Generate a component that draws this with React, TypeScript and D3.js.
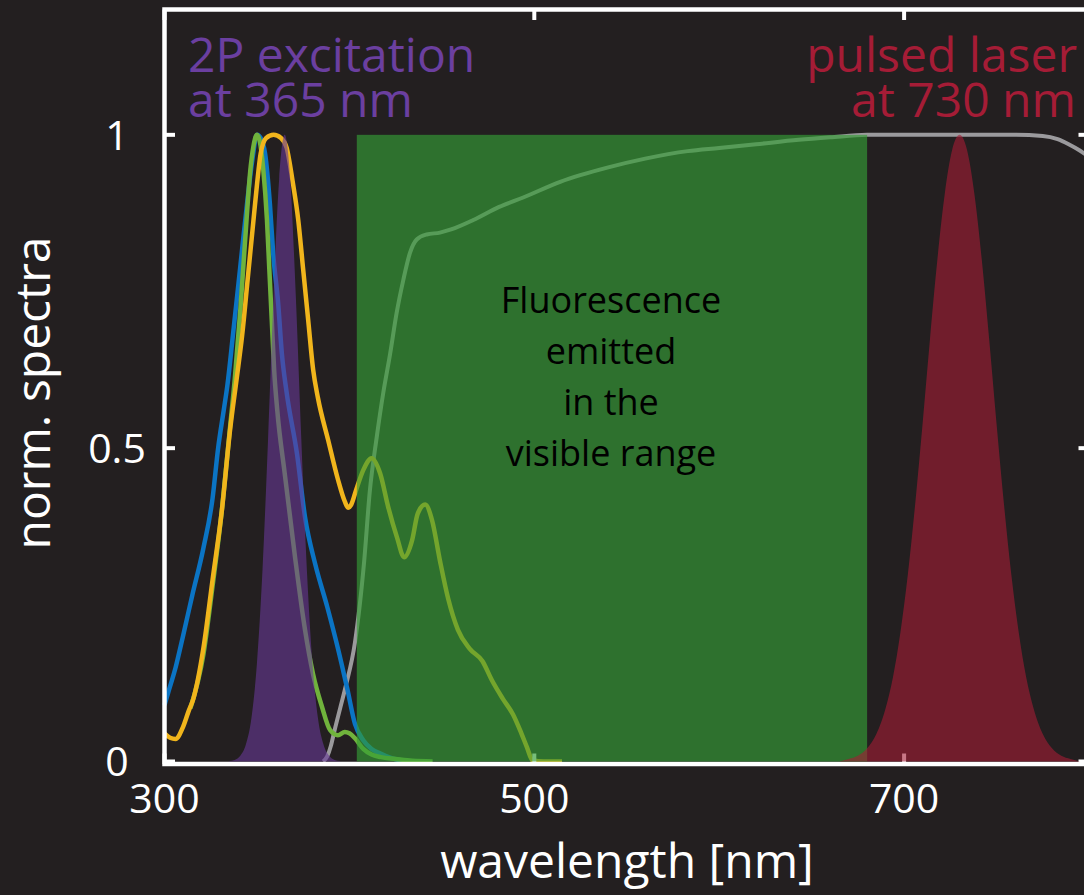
import React from 'react';
import * as d3 from 'd3';

type Pt = [number, number];

// wavelength [nm], normalized value
const blueSpectrum: Pt[] = [
  [300, 0.09], [302, 0.11], [306, 0.15], [310, 0.2], [315, 0.265], [321, 0.34], [326, 0.42],
  [329, 0.5], [332, 0.56], [334, 0.6], [337, 0.68], [341, 0.79], [345, 0.9], [347.5, 0.96],
  [350, 1.0], [352, 0.995], [354.4, 0.97], [357, 0.89], [358.8, 0.81], [361.5, 0.73],
  [363.5, 0.65], [366, 0.59], [371.7, 0.49], [376, 0.39], [381.5, 0.315], [388, 0.247],
  [394, 0.178], [399, 0.114], [403, 0.06], [407.5, 0.034], [412, 0.02], [416.5, 0.013],
  [422, 0.006], [431, 0],
];

const greenSpectrum: Pt[] = [
  [314, 0.085], [321, 0.17], [326, 0.28], [331, 0.4], [335, 0.52], [338, 0.61], [341, 0.72],
  [344.5, 0.87], [346.3, 0.94], [348, 0.98], [350, 1.0], [351.5, 0.99], [353.4, 0.945],
  [355.4, 0.865], [356.7, 0.785], [358, 0.705], [359.3, 0.625], [361, 0.56], [365, 0.46],
  [370.6, 0.326], [376, 0.21], [380.3, 0.14], [385.2, 0.087], [389.6, 0.05], [393.8, 0.042],
  [397.5, 0.047], [400, 0.045], [403, 0.037], [407.5, 0.02], [412, 0.011], [417, 0.007],
  [425, 0.004], [434, 0.001], [445, 0],
];

const yellowSpectrum: Pt[] = [
  [300, 0.045], [303, 0.038], [306, 0.036], [310, 0.055], [313, 0.08], [315.6, 0.1], [321, 0.18],
  [326, 0.29], [331, 0.4], [335.5, 0.53], [339, 0.61], [342, 0.68], [345, 0.77], [348, 0.86],
  [350, 0.92], [352, 0.97], [355, 0.995], [359, 1.0], [363, 0.995], [366, 0.98], [369.6, 0.92],
  [372.3, 0.865], [375, 0.785], [377.7, 0.705], [380.4, 0.625], [383, 0.58], [388.5, 0.513],
  [393.8, 0.45], [397.5, 0.415], [399.3, 0.405], [401, 0.41], [403.6, 0.433], [407.5, 0.465],
  [412, 0.484], [416.6, 0.46], [421, 0.406], [425.7, 0.358], [429.6, 0.326], [433.9, 0.353],
  [437, 0.396], [441, 0.41], [444.7, 0.385], [449, 0.32], [453.4, 0.26], [458.7, 0.21],
  [465, 0.18], [472, 0.16], [477, 0.13], [483, 0.1], [488.5, 0.075], [493, 0.045],
  [496, 0.023], [499, 0.002], [505, 0], [515, 0],
];

const filterTransmission: Pt[] = [
  [385.8, 0], [388, 0.008], [390, 0.025], [392, 0.05], [395, 0.085], [398, 0.12], [403, 0.19],
  [408, 0.32], [411, 0.43], [414.8, 0.518], [418.3, 0.588], [422, 0.65], [425.5, 0.715],
  [429.2, 0.769], [432.8, 0.812], [436.4, 0.833], [441.8, 0.841], [449, 0.844], [455, 0.849],
  [467, 0.864], [481, 0.885], [494, 0.9], [514, 0.925], [540, 0.948], [560, 0.962],
  [583, 0.974], [600, 0.979], [620, 0.985], [643, 0.992], [660, 0.996], [680, 1.0], [720, 1.0],
  [760, 1.0], [775, 0.998], [783, 0.993], [789, 0.985], [795, 0.975], [800, 0.965],
];

const excitation2P: Pt[] = [
  [335, 0.0006], [338, 0.0025], [341, 0.009], [344, 0.027], [347, 0.069], [350, 0.157],
  [353, 0.306], [356, 0.514], [359, 0.744], [362, 0.929], [365, 1], [368, 0.929], [371, 0.744],
  [374, 0.514], [377, 0.306], [380, 0.157], [383, 0.069], [386, 0.027], [389, 0.009],
  [392, 0.0025], [395, 0.0006],
];

const pulsedLaser: Pt[] = [
  [665, 0], [670, 0.004], [675, 0.009], [680, 0.021], [685, 0.044], [690, 0.085],
  [694, 0.135], [698, 0.206], [702, 0.298], [706, 0.411], [710, 0.539], [714, 0.674],
  [718, 0.801], [722, 0.906], [726, 0.976], [730, 1], [734, 0.976], [738, 0.906], [742, 0.801],
  [746, 0.674], [750, 0.539], [754, 0.411], [758, 0.298], [762, 0.206], [766, 0.135],
  [770, 0.085], [775, 0.044], [780, 0.021], [785, 0.009], [790, 0.004], [795, 0],
];

const visibleBand = [404, 680];
const xTicks = [300, 500, 700];
const yTicks = [0, 0.5, 1];
const yTickLabels = ['0', '0.5', '1'];
const bandText = ['Fluorescence', 'emitted', 'in the', 'visible range'];

const W = 1084;
const H = 895;
const BG = '#231f20';
const FONT = "'Open Sans', 'Noto Sans', sans-serif";

export default function App() {
  const x = d3.scaleLinear().domain([300, 800]).range([164.5, 1089]);
  const y = d3.scaleLinear().domain([-0.004, 1.2]).range([764, 9.5]);

  const line = d3.line<Pt>().x(d => x(d[0])).y(d => y(d[1])).curve(d3.curveMonotoneX);
  const area = d3.area<Pt>()
    .x(d => x(d[0]))
    .y0(y(0))
    .y1(d => y(d[1]))
    .curve(d3.curveMonotoneX);

  const x0 = x(300), x1 = x(800);
  const yb = y(-0.004), yt = y(1.2);
  const tick = 10.5;

  return (
    <svg width={W} height={H} style={{ position: 'absolute', left: 0, top: 0 }} fontFamily={FONT}>
      <rect x={0} y={0} width={W} height={H} fill={BG} />

      {/* spectra */}
      <g fill="none" strokeWidth={4.5} strokeLinejoin="round">
        <path d={line(filterTransmission)!} stroke="#9b9a9d" strokeWidth={4} />
        <path d={line(blueSpectrum)!} stroke="#0b74c4" />
        <path d={line(greenSpectrum)!} stroke="#70b33c" />
        <path d={line(yellowSpectrum)!} stroke="#f1b51c" />
      </g>

      {/* axes box */}
      <g stroke="#fff" strokeWidth={4}>
        <rect x={x0} y={yt} width={x1 - x0} height={yb - yt} fill="none" strokeWidth={4.5} />
        {xTicks.map(t => (
          <g key={t}>
            <line x1={x(t)} x2={x(t)} y1={yb} y2={yb - tick} />
            <line x1={x(t)} x2={x(t)} y1={yt} y2={yt + tick} />
          </g>
        ))}
        {yTicks.map(t => (
          <g key={t}>
            <line x1={x0} x2={x0 + tick} y1={y(t)} y2={y(t)} />
            <line x1={x1} x2={x1 - tick} y1={y(t)} y2={y(t)} />
          </g>
        ))}
      </g>

      {/* visible band */}
      <rect
        x={x(visibleBand[0])}
        y={y(1)}
        width={x(visibleBand[1]) - x(visibleBand[0])}
        height={y(0) - y(1)}
        fill="#349d35"
        fillOpacity={0.66}
      />

      {/* excitation fills */}
      <path d={area(excitation2P)!} fill="#673897" fillOpacity={0.6} />
      <path d={area(pulsedLaser)!} fill="#a51c36" fillOpacity={0.6} />

      {/* tick labels */}
      <g fill="#fff" fontSize={41}>
        {xTicks.map(t => (
          <text key={t} x={x(t)} y={yb + 49} textAnchor="middle">{t}</text>
        ))}
        {yTicks.map((t, i) => (
          <text key={t} x={117} y={y(t) + 15} textAnchor="middle">{yTickLabels[i]}</text>
        ))}
      </g>

      {/* axis titles */}
      <text x={627} y={878} fill="#fff" fontSize={48} textAnchor="middle">wavelength [nm]</text>
      <text transform="translate(50,393) rotate(-90)" fill="#fff" fontSize={48} textAnchor="middle">
        norm. spectra
      </text>

      {/* annotations */}
      <g fontSize={48} fill="#6b3fa0">
        <text x={188} y={72}>2P excitation</text>
        <text x={188} y={117}>at 365 nm</text>
      </g>
      <g fontSize={48} fill="#a51c36" textAnchor="end">
        <text x={1077} y={72}>pulsed laser</text>
        <text x={1076} y={117}>at 730 nm</text>
      </g>
      <g fontSize={36} fill="#000" textAnchor="middle">
        {bandText.map((s, i) => (
          <text key={s} x={611} y={313 + i * 51}>{s}</text>
        ))}
      </g>
    </svg>
  );
}
